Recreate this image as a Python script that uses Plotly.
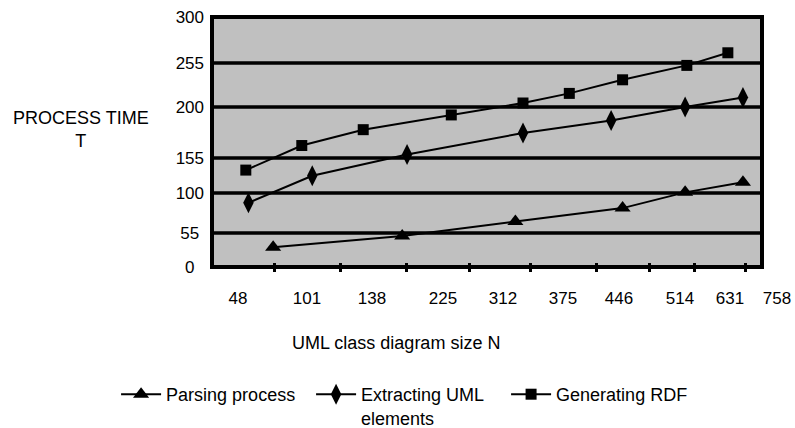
import numpy as np
import plotly.graph_objects as go

# ---- axis tick labels (as printed in the chart) ----
x_labels = [48, 101, 138, 225, 312, 375, 446, 514, 631, 758]
y_labels = [0, 55, 100, 155, 200, 255, 300]

# ---- series (N = UML class diagram size, T = process time) ----
parsing_n = [75, 175, 325, 450, 526, 666]
parsing_t = [32, 50, 68, 83, 101, 117]

extract_n = [56, 104, 181, 333, 436, 526, 666]
extract_t = [89, 127, 158, 177, 188, 200, 212]

rdf_n = [54, 97, 133, 237, 333, 383, 450, 530, 626]
rdf_t = [136, 166, 180, 193, 205, 217, 234, 252, 265]

# small tick marks along the bottom of the plot box (in N units)
x_marks = [76, 120, 180, 263, 341, 418, 480, 549, 674]

# ---- the chart's hand-spaced (piecewise) scales ----
X_LABEL_POS = [238, 307, 372, 443, 503, 563, 619, 680, 730, 777]
Y_LABEL_POS = [0, 34, 74, 109, 160, 204, 250]


def sx(v):
    return np.interp(v, x_labels, X_LABEL_POS)


def sy(v):
    return np.interp(v, y_labels, Y_LABEL_POS)


BOX_X0, BOX_X1 = 212, 762
FONT = "Liberation Sans, Arial, sans-serif"

fig = go.Figure()

fig.add_trace(go.Scatter(
    x=sx(parsing_n), y=sy(parsing_t), mode="lines+markers", name="Parsing process",
    line=dict(color="black", width=2),
    marker=dict(symbol="triangle-up", size=14, color="black"),
))
fig.add_trace(go.Scatter(
    x=sx(extract_n), y=sy(extract_t), mode="lines+markers", name="Extracting UML<br>elements",
    line=dict(color="black", width=2),
    marker=dict(symbol="diamond-tall", size=15, color="black"),
))
fig.add_trace(go.Scatter(
    x=sx(rdf_n), y=sy(rdf_t), mode="lines+markers", name="Generating RDF",
    line=dict(color="black", width=2),
    marker=dict(symbol="square", size=11, color="black"),
))

shapes = [dict(type="rect", xref="x", yref="y", x0=BOX_X0, x1=BOX_X1,
               y0=sy(y_labels[0]), y1=sy(y_labels[-1]),
               fillcolor="#c0c0c0", line=dict(color="black", width=4), layer="below")]
for v in y_labels[1:-1]:
    yy = float(sy(v))
    shapes.append(dict(type="line", xref="x", yref="y", x0=BOX_X0, x1=BOX_X1,
                       y0=yy, y1=yy, line=dict(color="black", width=3.5), layer="below"))

y_text = []
for v in y_labels:
    s = str(v)
    if v == 0:
        s += "\u00a0\u00a0"
    elif v == 55:
        s += "\u00a0"
    y_text.append(s)

fig.update_layout(
    width=795, height=428,
    margin=dict(l=205, r=5, t=12, b=156, autoexpand=False),
    paper_bgcolor="white", plot_bgcolor="white",
    font=dict(family=FONT, size=17, color="black"),
    shapes=shapes,
    xaxis=dict(range=[205, 790], showgrid=False, zeroline=False, showline=False,
               tickmode="array", tickvals=sx(x_labels), ticktext=[str(v) for v in x_labels],
               ticks="outside", ticklen=11, tickcolor="rgba(0,0,0,0)",
               tickfont=dict(size=17),
               minor=dict(tickmode="array", tickvals=sx(x_marks), ticks="inside",
                          ticklen=9, tickwidth=3, tickcolor="black", showgrid=False)),
    yaxis=dict(range=[-5, 255], showgrid=False, zeroline=False, showline=False,
               tickmode="array", tickvals=sy(y_labels), ticktext=y_text,
               ticks="", tickfont=dict(size=17)),
    legend=dict(orientation="h", x=-0.152, y=-0.4, xanchor="left", yanchor="top",
                font=dict(size=18), valign="top", itemwidth=40, entrywidth=140,
                bgcolor="rgba(0,0,0,0)"),
    annotations=[
        dict(text="PROCESS TIME<br>T", xref="paper", yref="y", x=(81 - 205) / 585, y=138,
             xanchor="center", yanchor="middle",
             showarrow=False, font=dict(size=18), align="center"),
        dict(text="UML class diagram size N", xref="x", yref="paper", x=396, y=-0.274,
             showarrow=False, font=dict(size=18), yanchor="middle"),
    ],
)

fig.write_html("out.html", config={"displayModeBar": False},
               post_script="document.body.style.margin='0';")
